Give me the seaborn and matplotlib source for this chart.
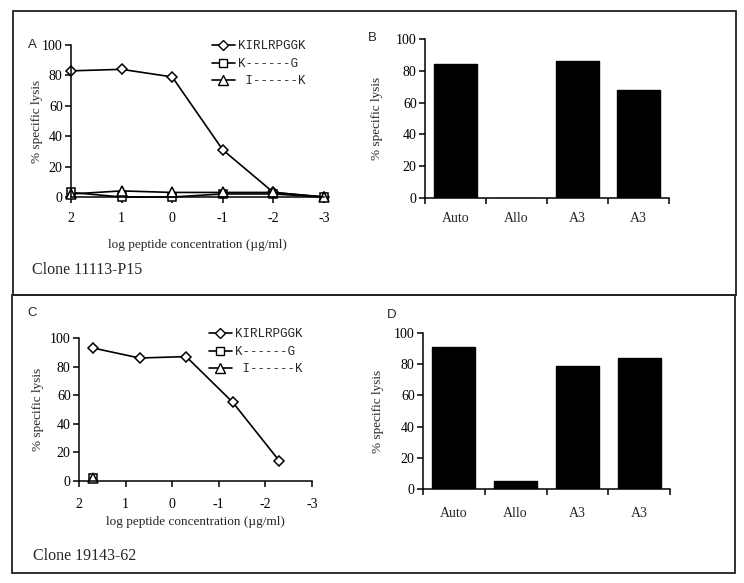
import numpy as np
import pandas as pd
import matplotlib
matplotlib.use('Agg')
import matplotlib.pyplot as plt
import seaborn as sns
from matplotlib.lines import Line2D
from matplotlib.patches import Rectangle
from matplotlib.font_manager import FontProperties


# data
conc_a = [2, 1, 0, -1, -2, -3]
kirl_a = [83, 84, 79, 31, 3, 0]
kg_a = [3, 0, 0, 2, 2, 0]
ik_a = [2, 4, 3, 3, 3, 0]

conc_c = [1.7, 0.7, -0.3, -1.3, -2.3]
kirl_c = [93, 86, 87, 55, 14]
conc_c_ctrl = [1.7]
kg_c = [2]
ik_c = [2]

peptides = ['KIRLRPGGK', 'K------G', ' I------K']
targets = ['Auto', 'Allo', 'A3', 'A3']
lysis_b = [84, 0, 86, 68]
lysis_d = [91, 5, 79, 84]


sns.set_style('ticks')
plt.rcParams['font.family'] = ['Liberation Serif', 'DejaVu Serif']
plt.rcParams['axes.linewidth'] = 1.1
plt.rcParams['axes.edgecolor'] = 'black'

W, H = 744, 583
fig = plt.figure(figsize=(W / 100, H / 100), dpi=100)
fig.patch.set_facecolor('white')


# helper: axes from pixel box (left, top, right, bottom)
def px_axes(x0, y0, x1, y1):
    return fig.add_axes([x0 / W, 1 - y1 / H, (x1 - x0) / W, (y1 - y0) / H])


def style_axes(ax, ypad):
    sns.despine(ax=ax)
    ax.set_ylim(0, 100)
    ax.set_yticks(range(0, 101, 20))
    ax.tick_params(axis='both', direction='out', length=4, width=1.1,
                   labelsize=10, colors='black')
    ax.tick_params(axis='y', pad=2)
    ax.set_ylabel('% specific lysis', fontsize=9.5, labelpad=ypad)


markers = ['D', 's', '^']
msizes = [5.5, 6, 6.5]


def line_panel(ax, xs, ys, legend_xy, ypad, xtpad, xlpad):
    for x, y, mk, ms, lab in zip(xs, ys, markers, msizes, peptides):
        sns.lineplot(x=x, y=y, ax=ax, color='black', marker=mk, markersize=ms,
                     markerfacecolor='white', markeredgecolor='black',
                     markeredgewidth=1.1, linewidth=1.2, clip_on=False, label=lab)
    style_axes(ax, ypad)
    ax.set_xlim(2, -3)
    ax.set_xticks([2, 1, 0, -1, -2, -3])
    ax.set_xticklabels(['2', '1', '0', '-1', '-2', '-3'])
    ax.tick_params(axis='x', pad=xtpad)
    ax.set_xlabel('log peptide concentration (\u00b5g/ml)', fontsize=9.5, labelpad=xlpad)
    handles = [Line2D([], [], color='black', marker=mk, markersize=ms,
                      markerfacecolor='white', markeredgecolor='black', lw=1.2)
               for mk, ms in zip(markers, msizes)]
    ax.legend(handles, peptides, loc='upper left',
              bbox_to_anchor=(legend_xy[0] / W, 1 - legend_xy[1] / H),
              bbox_transform=fig.transFigure, frameon=False, borderpad=0,
              handlelength=1.8, handletextpad=0.3, labelspacing=0.45,
              prop=FontProperties(family='Liberation Mono', size=9))


def bar_panel(ax, vals, ypad, xtpad):
    sns.barplot(x=list(range(len(vals))), y=vals, ax=ax, color='black',
                width=0.7, saturation=1, edgecolor='black')
    style_axes(ax, ypad)
    ax.set_xlim(-0.5, len(vals) - 0.5)
    ax.set_xticks(np.arange(-0.5, len(vals), 1.0))
    ax.set_xticklabels([''] * (len(vals) + 1))
    ax.set_xticks(range(len(vals)), minor=True)
    ax.set_xticklabels(targets, minor=True)
    ax.tick_params(axis='x', which='minor', length=0, pad=xtpad, labelsize=10)
    ax.set_xlabel('')


# panel A
ax_a = px_axes(71, 45, 324, 197)
line_panel(ax_a, [conc_a, conc_a, conc_a], [kirl_a, kg_a, ik_a], (206, 34),
           ypad=-1, xtpad=7, xlpad=10)

# panel B
ax_b = px_axes(425, 39, 669, 198)
bar_panel(ax_b, lysis_b, ypad=9, xtpad=10)

# panel C
ax_c = px_axes(79, 338, 312, 481)
line_panel(ax_c, [conc_c, conc_c_ctrl, conc_c_ctrl], [kirl_c, kg_c, ik_c], (203, 322),
           ypad=4, xtpad=8.5, xlpad=3)

# panel D
ax_d = px_axes(423, 333, 670, 489)
bar_panel(ax_d, lysis_d, ypad=7, xtpad=13)

# panel letters
for lab, x, y in [('A', 32, 45), ('B', 372, 38), ('C', 32, 313), ('D', 392, 315)]:
    fig.text(x / W, 1 - y / H, lab, family='Liberation Sans', fontsize=9.5,
             ha='center', va='center')

fig.text(32 / W, 1 - 270 / H, 'Clone 11113-P15', fontsize=11.5, va='center')
fig.text(33 / W, 1 - 556 / H, 'Clone 19143-62', fontsize=11.5, va='center')

# boxes round each row
fig.add_artist(Rectangle((13 / W, 1 - 295 / H), 723 / W, 284 / H,
                         transform=fig.transFigure, fill=False, lw=1.3, ec='#222222'))
fig.add_artist(Rectangle((12 / W, 1 - 573 / H), 723 / W, 278 / H,
                         transform=fig.transFigure, fill=False, lw=1.3, ec='#222222'))

fig.savefig('out.png', dpi=100)
